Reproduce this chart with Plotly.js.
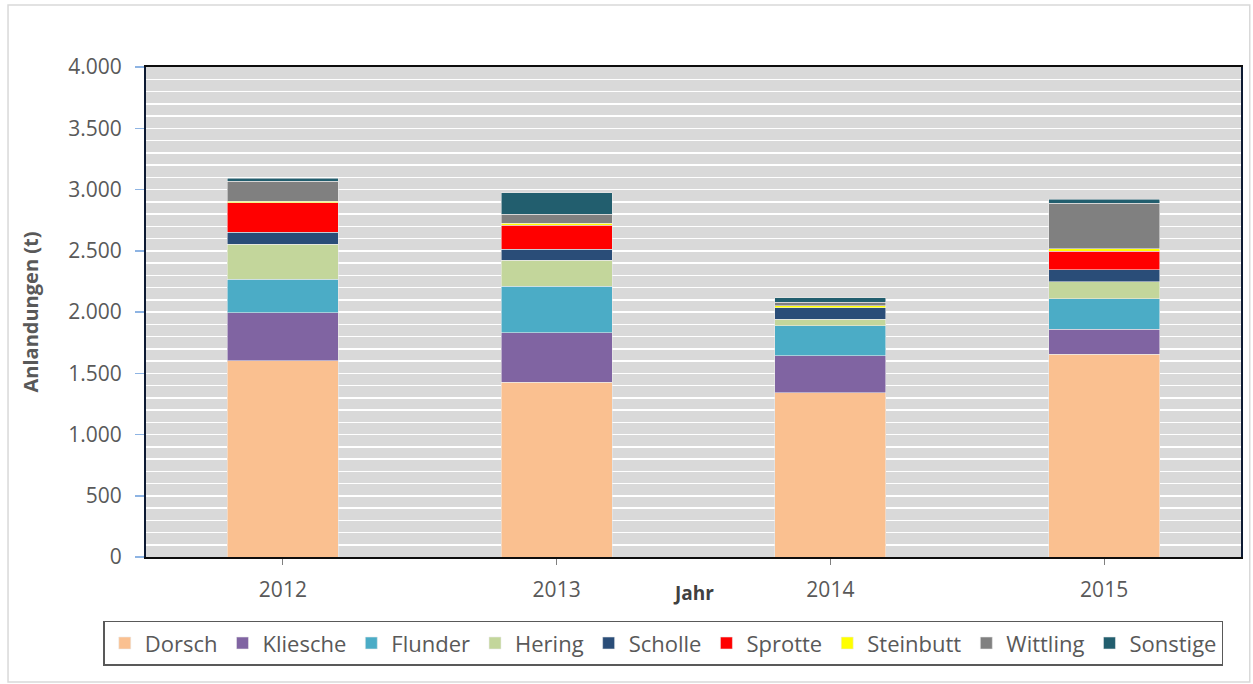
<!DOCTYPE html>
<html>
<head>
<meta charset="utf-8">
<script src="https://cdn.plot.ly/plotly-3.0.1.min.js"></script>
<style>html,body{margin:0;padding:0;background:#fff;}#chart{width:1253px;height:684px;}</style>
</head>
<body>
<div id="chart"></div>
<script>
const years = ['2012', '2013', '2014', '2015'];
const species = ['Dorsch', 'Kliesche', 'Flunder', 'Hering', 'Scholle', 'Sprotte', 'Steinbutt', 'Wittling', 'Sonstige'];
const dorsch    = [1603, 1426, 1341, 1657];
const kliesche  = [389, 405, 300, 202];
const flunder   = [275, 381, 245, 250];
const hering    = [286, 212, 54, 138];
const scholle   = [97, 90, 93, 96];
const sprotte   = [242, 194, 3, 153];
const steinbutt = [14, 16, 16, 21];
const wittling  = [163, 73, 27, 370];
const sonstige  = [22, 177, 36, 35];
const seriesValues = [dorsch, kliesche, flunder, hering, scholle, sprotte, steinbutt, wittling, sonstige];
const colors = ['#FAC090', '#8064A2', '#4BACC6', '#C3D69B', '#2A4D78', '#FF0000', '#FFFF00', '#808080', '#225E6E'];

const font = 'Open Sans, Liberation Sans, sans-serif';
const traces = species.map((name, i) => ({
  type: 'bar', name: name, x: years, y: seriesValues[i],
  marker: {color: colors[i], line: {color: 'rgba(235,235,235,0.7)', width: 0.8}},
  hoverinfo: 'x+y+name'
}));

const layout = {
  width: 1253, height: 684,
  margin: {l: 146, r: 12, t: 67, b: 127},
  paper_bgcolor: '#ffffff', plot_bgcolor: '#D9D9D9',
  barmode: 'stack', bargap: 0.595,
  separators: ',.',
  font: {family: font, color: '#595959', size: 21},
  xaxis: {
    type: 'category', showgrid: false,
    showline: true, linecolor: '#0d0d0d', linewidth: 2, mirror: true,
    ticks: 'outside', ticklen: 6, tickcolor: '#808080', tickwidth: 1,
    ticklabelstandoff: 7,
    tickfont: {size: 21, color: '#595959', family: font}
  },
  yaxis: {
    range: [0, 4000], dtick: 500, tickformat: ',d',
    showgrid: true, gridcolor: '#ffffff', gridwidth: 1.5,
    minor: {dtick: 100, showgrid: true, gridcolor: '#ffffff', gridwidth: 1.5},
    showline: true, linecolor: '#0d1a33', linewidth: 2, mirror: true,
    ticks: 'outside', ticklen: 9, tickcolor: '#8EB4E3', tickwidth: 1.5,
    ticklabelstandoff: 9,
    tickfont: {size: 21, color: '#595959', family: font},
    title: {text: 'Anlandungen (t)', standoff: 24, font: {size: 20, color: '#595959', family: 'Open Sans, sans-serif', weight: 'bold'}},
    zeroline: false
  },
  legend: {
    orientation: 'h', x: -0.039, xanchor: 'left', y: -0.13, yanchor: 'top',
    bordercolor: '#595959', borderwidth: 1.5, bgcolor: '#ffffff',
    font: {size: 22, color: '#595959', family: font},
    itemwidth: 30, traceorder: 'normal'
  },
  annotations: [{
    text: '<b>Jahr</b>', xref: 'paper', yref: 'paper', x: 0.5, y: -0.074,
    xanchor: 'center', yanchor: 'middle', showarrow: false,
    font: {size: 19, color: '#404040', family: font}
  }],
  shapes: [{
    type: 'rect', xref: 'paper', yref: 'paper', layer: 'below',
    x0: -0.126, x1: 1.008, y0: -0.255, y1: 1.1265,
    line: {color: '#D9D9D9', width: 1.5}, fillcolor: 'rgba(0,0,0,0)'
  }],
  showlegend: true
};

Plotly.newPlot('chart', traces, layout, {displayModeBar: false, staticPlot: true});
</script>
</body>
</html>
